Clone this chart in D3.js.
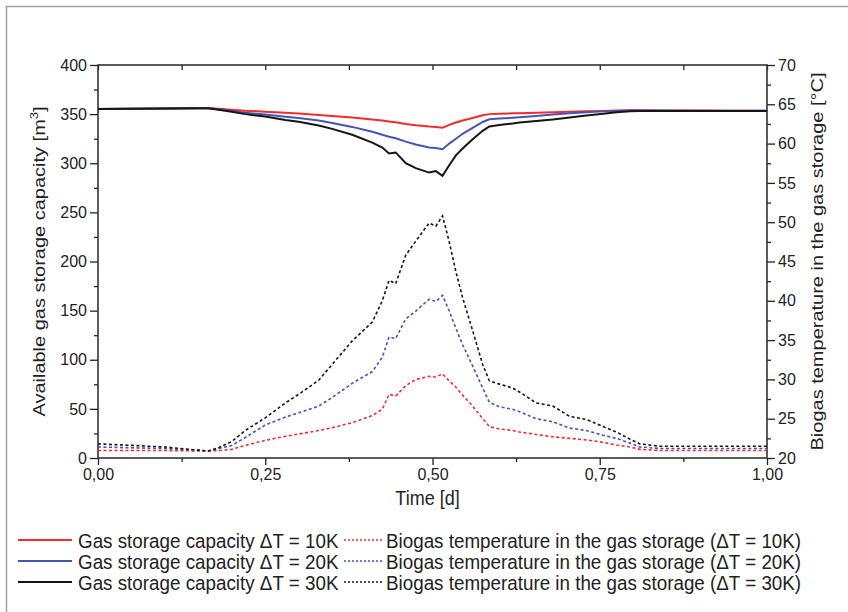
<!DOCTYPE html>
<html>
<head>
<meta charset="utf-8">
<script src="https://cdn.jsdelivr.net/npm/d3@7"></script>
<style>
  body { margin: 0; background: #fff; }
  svg { display: block; font-family: "Liberation Sans", Arial, sans-serif; }
</style>
</head>
<body>
<div id="chart"></div>
<script>
// time axis in days
var time = [0, 0.05, 0.10, 0.15, 0.165, 0.18, 0.20, 0.22, 0.25, 0.28, 0.30, 0.33, 0.35, 0.38,
  0.41, 0.425, 0.435, 0.445, 0.46, 0.475, 0.495, 0.505, 0.515, 0.525, 0.535, 0.545, 0.56,
  0.575, 0.585, 0.60, 0.62, 0.63, 0.655, 0.68, 0.705, 0.73, 0.755, 0.775, 0.795, 0.81,
  0.84, 0.90, 0.95, 1.0];

// available gas storage capacity [m3]
var cap10 = [355.3, 355.5, 355.8, 356, 356, 355.5, 354.5, 353.5, 352.5, 351.3, 350.6, 349.2, 348.2, 346.5,
  344.5, 343.5, 342.5, 341.8, 340, 338.6, 337.3, 337.0, 336.2, 339, 341.5, 343.5, 346,
  348.8, 350, 350.3, 350.8, 351, 351.5, 352, 352.4, 352.8, 353.2, 353.6, 354, 354,
  353.8, 353.6, 353.5, 353.5];
var cap20 = [355.3, 355.5, 355.8, 356, 356, 355, 353.2, 351.5, 349.5, 347.3, 346, 343.5, 341, 337,
  332, 329, 327, 325.5, 322, 319, 316, 315.5, 314.3, 320, 325, 330, 336,
  342, 344.8, 345.5, 346.3, 346.8, 348, 349.5, 351, 352, 352.8, 353.3, 353.7, 353.7,
  353.6, 353.5, 353.4, 353.4];
var cap30 = [355.3, 355.5, 355.8, 356, 356, 354.5, 352.5, 350, 347.5, 344, 342.3, 338.5, 335, 329,
  321, 316, 310, 311, 300, 295, 290.5, 292, 287.3, 298, 308, 315, 324.5,
  333, 337.5, 339, 340.5, 341.5, 343, 344.5, 346.5, 348.5, 350.5, 352, 353, 353.3,
  353.3, 353.3, 353.3, 353.3];

// biogas temperature in the gas storage [°C]
var temp10 = [20.95, 20.95, 20.95, 20.9, 20.9, 20.95, 21.1, 21.6, 22.25, 22.75, 23.05, 23.5, 23.85, 24.5,
  25.4, 26.2, 28.1, 27.9, 29.2, 30.0, 30.4, 30.3, 30.7, 29.8, 29.0, 28.0, 26.6,
  25.0, 24.0, 23.7, 23.5, 23.3, 23.0, 22.7, 22.5, 22.3, 22.0, 21.65, 21.4, 21.1,
  20.95, 20.95, 20.95, 20.95];
var temp20 = [21.4, 21.3, 21.2, 21.0, 20.9, 21.2, 21.6, 22.6, 24.2, 25.2, 25.75, 26.6, 27.7, 29.5,
  31.0, 32.8, 35.4, 35.2, 37.7, 38.7, 40.2, 39.9, 40.7, 38.7, 36.5, 34.4, 31.7,
  28.9, 27.1, 26.5, 26.2, 25.9, 25.0, 24.6, 23.8, 23.5, 22.9, 22.5, 21.9, 21.4,
  21.2, 21.2, 21.2, 21.2];
var temp30 = [21.8, 21.6, 21.4, 21.0, 20.9, 21.3, 22.1, 23.5, 25.1, 27.0, 28.1, 29.9, 31.9, 34.9,
  37.3, 40.0, 42.6, 42.2, 45.8, 47.6, 49.9, 49.5, 50.8, 47.5, 43.7, 40.4, 36.2,
  31.9, 29.8, 29.4, 28.9, 28.4, 27.0, 26.6, 25.3, 24.9, 24.0, 23.3, 22.4, 21.8,
  21.5, 21.5, 21.5, 21.5];

var capLabels = ["Gas storage capacity \u0394T = 10K", "Gas storage capacity \u0394T = 20K", "Gas storage capacity \u0394T = 30K"];
var tempLabels = ["Biogas temperature in the gas storage (\u0394T = 10K)",
  "Biogas temperature in the gas storage (\u0394T = 20K)",
  "Biogas temperature in the gas storage (\u0394T = 30K)"];
var colors = ["#f32b2b", "#4655b5", "#151515"];

var W = 848, H = 612;
var margin = {top: 65, right: 81, bottom: 154, left: 98},
    width = W - margin.left - margin.right,
    height = H - margin.top - margin.bottom;

var svg = d3.select("#chart").append("svg")
    .attr("width", W)
    .attr("height", H);

// outer frame (only top and left edges fall inside the picture)
svg.append("path")
    .attr("d", "M6.5," + H + "V6.5H" + W)
    .attr("fill", "none")
    .attr("stroke", "#a0a0a0")
    .attr("stroke-width", 1.5);

var g = svg.append("g")
    .attr("transform", "translate(" + margin.left + "," + margin.top + ")");

var x = d3.scaleLinear().domain([0, 1]).range([0, width]);
var yL = d3.scaleLinear().domain([0, 400]).range([height, 0]);
var yR = d3.scaleLinear().domain([20, 70]).range([height, 0]);

var fmtX = function(d) { return d3.format(".2f")(d).replace(".", ","); };

// minor ticks first
function minor(axis, vals) {
  return axis.tickValues(vals).tickSize(4).tickFormat("");
}
g.append("g").attr("class", "ax")
    .attr("transform", "translate(0," + height + ")")
    .call(minor(d3.axisBottom(x), d3.range(0.125, 1, 0.25)));
g.append("g").attr("class", "ax")
    .call(minor(d3.axisLeft(yL), d3.range(25, 400, 50)));
g.append("g").attr("class", "ax")
    .attr("transform", "translate(" + width + ",0)")
    .call(minor(d3.axisRight(yR), d3.range(22.5, 70, 5)));
g.append("g").attr("class", "ax")
    .call(d3.axisBottom(x).tickValues(d3.range(0, 1.01, 0.125)).tickSize(5).tickFormat(""));

// major ticks with labels
g.append("g").attr("class", "ax lab")
    .attr("transform", "translate(0," + height + ")")
    .call(d3.axisBottom(x).tickValues([0, 0.25, 0.5, 0.75, 1]).tickSize(7).tickPadding(4).tickFormat(fmtX));
g.append("g").attr("class", "ax lab")
    .call(d3.axisLeft(yL).tickValues(d3.range(0, 401, 50)).tickSize(8).tickPadding(3));
g.append("g").attr("class", "ax lab")
    .attr("transform", "translate(" + width + ",0)")
    .call(d3.axisRight(yR).tickValues(d3.range(20, 71, 5)).tickSize(8).tickPadding(3));

g.selectAll(".ax path.domain").attr("stroke", "none");
g.selectAll(".ax line").attr("stroke", "#222").attr("stroke-width", 1.3);
g.selectAll(".lab text").attr("fill", "#222").style("font-size", "16px");

// plot box
g.append("rect")
    .attr("width", width)
    .attr("height", height)
    .attr("fill", "none")
    .attr("stroke", "#333")
    .attr("stroke-width", 1.6);

// lines
var lineL = d3.line().x(function(d, i) { return x(time[i]); }).y(function(d) { return yL(d); });
var lineR = d3.line().x(function(d, i) { return x(time[i]); }).y(function(d) { return yR(d); });

[temp10, temp20, temp30].forEach(function(s, k) {
  g.append("path").datum(s)
      .attr("d", lineR)
      .attr("fill", "none")
      .attr("stroke", colors[k])
      .attr("stroke-width", 1.6)
      .attr("stroke-dasharray", "3,2.5");
});
[cap10, cap20, cap30].forEach(function(s, k) {
  g.append("path").datum(s)
      .attr("d", lineL)
      .attr("fill", "none")
      .attr("stroke", colors[k])
      .attr("stroke-width", 2);
});

// axis titles (glyphs a little narrow, as in the figure)
svg.append("text")
    .attr("transform", "translate(45," + (margin.top + height / 2) + ") scale(0.85,1) rotate(-90)")
    .attr("text-anchor", "middle")
    .attr("fill", "#222")
    .style("font-size", "20px")
    .html("Available gas storage capacity [m<tspan dy='-8' font-size='13px'>3</tspan><tspan dy='8'>]</tspan>");

svg.append("text")
    .attr("transform", "translate(823," + (margin.top + height / 2) + ") scale(0.85,1) rotate(-90)")
    .attr("text-anchor", "middle")
    .attr("fill", "#222")
    .style("font-size", "20px")
    .text("Biogas temperature in the gas storage [\u00B0C]");

svg.append("text")
    .attr("transform", "translate(" + (margin.left + width / 2 - 5) + ",505) scale(0.9,1)")
    .attr("text-anchor", "middle")
    .attr("fill", "#222")
    .style("font-size", "20px")
    .text("Time [d]");

// legend
var leg = svg.append("g");
capLabels.forEach(function(lab, k) {
  var yy = 540 + k * 21;
  leg.append("line").attr("x1", 18).attr("x2", 72).attr("y1", yy).attr("y2", yy)
      .attr("stroke", colors[k]).attr("stroke-width", 2);
  leg.append("text").attr("transform", "translate(78," + yy + ") scale(0.9,1)").attr("dy", "0.36em")
      .attr("fill", "#222").style("font-size", "20.9px").text(lab);
  leg.append("line").attr("x1", 344).attr("x2", 383).attr("y1", yy).attr("y2", yy)
      .attr("stroke", colors[k]).attr("stroke-width", 1.4).attr("stroke-dasharray", "2,2");
  leg.append("text").attr("transform", "translate(386," + yy + ") scale(0.9,1)").attr("dy", "0.36em")
      .attr("fill", "#222").style("font-size", "20.9px").text(tempLabels[k]);
});
</script>
</body>
</html>
